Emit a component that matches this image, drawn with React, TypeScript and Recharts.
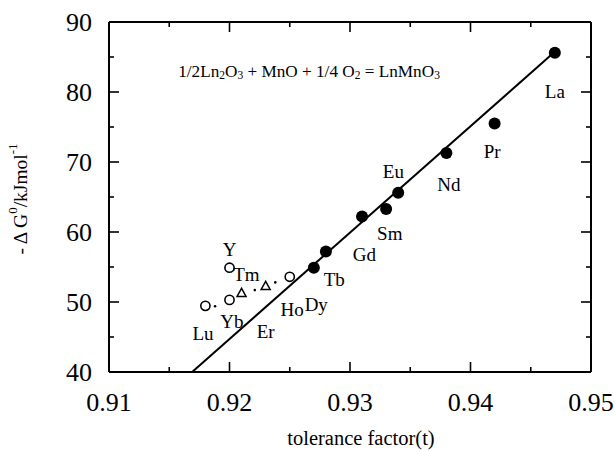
import { ScatterChart, Scatter, XAxis, YAxis } from 'recharts';

const xTicks = [0.91, 0.915, 0.92, 0.925, 0.93, 0.935, 0.94, 0.945, 0.95];
const yTicks = [40, 45, 50, 55, 60, 65, 70, 75, 80, 85, 90];

// filled circles: La, Pr, Nd, Eu, Sm, Gd, (Gd/Tb), Tb
const filledT = [0.947, 0.942, 0.938, 0.934, 0.933, 0.931, 0.928, 0.927];
const filledG = [85.6, 75.5, 71.3, 65.6, 63.3, 62.2, 57.2, 54.9];

// open circles
const openT = [0.92, 0.925, 0.92, 0.918];
const openG = [54.9, 53.6, 50.3, 49.45];

// open triangles
const triT = [0.923, 0.921];
const triG = [52.3, 51.3];

// tiny dots next to the open markers
const dotT = [0.9188, 0.9221, 0.9238];
const dotG = [49.4, 51.7, 52.8];

// fitted line
const fitT = [0.9169, 0.9469];
const fitG = [40, 85.6];

// element labels (anchors in data units)
const labelNames = ['La', 'Pr', 'Nd', 'Eu', 'Sm', 'Gd', 'Tb', 'Dy', 'Ho', 'Er', 'Yb', 'Lu', 'Tm', 'Y'];
const labelT = [0.947, 0.9418, 0.9382, 0.9336, 0.9333, 0.9312, 0.9287, 0.9272, 0.9252, 0.923, 0.9202, 0.9178, 0.9214, 0.92];
const labelG = [80.1, 71.5, 66.75, 68.66, 59.84, 56.74, 53.26, 49.59, 48.87, 45.77, 47.2, 45.54, 53.88, 57.45];

const eqT = [0.9266];
const eqG = [83.06];

const zip = (t: number[], g: number[]) => t.map((v, i) => ({ t: v, g: g[i] }));

const filled = zip(filledT, filledG);
const open = zip(openT, openG);
const tri = zip(triT, triG);
const dots = zip(dotT, dotG);
const fit = zip(fitT, fitG);
const labels = labelNames.map((name, i) => ({ name, t: labelT[i], g: labelG[i] }));
const equation = zip(eqT, eqG);

const FONT = 'Liberation Serif';

const isMajorX = (v: number) => Math.round(v * 1000) % 10 === 0;
const isMajorY = (v: number) => v % 10 === 0;

const BottomTick = (props: any) => {
  const { x, y, payload } = props;
  const major = isMajorX(payload.value);
  return (
    <g>
      <line x1={x} x2={x} y1={y} y2={y - (major ? 10 : 5)} stroke="#000" strokeWidth={1.6} />
      {major && (
        <text x={x} y={y + 30} textAnchor="middle" dominantBaseline="central" fontFamily={FONT} fontSize={26} fill="#000">
          {payload.value.toFixed(2)}
        </text>
      )}
    </g>
  );
};

const TopTick = (props: any) => {
  const { x, y, payload } = props;
  const major = isMajorX(payload.value);
  return <line x1={x} x2={x} y1={y} y2={y + (major ? 10 : 5)} stroke="#000" strokeWidth={1.6} />;
};

const LeftTick = (props: any) => {
  const { x, y, payload } = props;
  const major = isMajorY(payload.value);
  return (
    <g>
      <line x1={x} x2={x + (major ? 10 : 5)} y1={y} y2={y} stroke="#000" strokeWidth={1.6} />
      {major && (
        <text x={x - 17} y={y} textAnchor="end" dominantBaseline="central" fontFamily={FONT} fontSize={26} fill="#000">
          {payload.value}
        </text>
      )}
    </g>
  );
};

const RightTick = (props: any) => {
  const { x, y, payload } = props;
  const major = isMajorY(payload.value);
  return <line x1={x} x2={x - (major ? 10 : 5)} y1={y} y2={y} stroke="#000" strokeWidth={1.6} />;
};

const FilledDot = (p: any) => <circle cx={p.cx} cy={p.cy} r={6} fill="#000" />;
const OpenDot = (p: any) => <circle cx={p.cx} cy={p.cy} r={4.6} fill="#fff" stroke="#000" strokeWidth={1.6} />;
const TinyDot = (p: any) => <circle cx={p.cx} cy={p.cy} r={1.3} fill="#000" />;
const Triangle = (p: any) => {
  const s = 4.5;
  const pts = `${p.cx},${p.cy - s} ${p.cx - s},${p.cy + s * 0.8} ${p.cx + s},${p.cy + s * 0.8}`;
  return <polygon points={pts} fill="#fff" stroke="#000" strokeWidth={1.5} />;
};
const NoDot = () => <g />;

const ElementLabel = (p: any) => (
  <text x={p.cx} y={p.cy} textAnchor="middle" dominantBaseline="central" fontFamily={FONT} fontSize={19} fill="#000">
    {p.payload.name}
  </text>
);

const Equation = (p: any) => (
  <text x={p.cx} y={p.cy} textAnchor="middle" dominantBaseline="central" fontFamily={FONT} fontSize={17.2} fill="#000">
    <tspan>1/2Ln</tspan>
    <tspan fontSize={11.5} dy={4}>2</tspan>
    <tspan dy={-4}>O</tspan>
    <tspan fontSize={11.5} dy={4}>3</tspan>
    <tspan dy={-4}> + MnO + 1/4 O</tspan>
    <tspan fontSize={11.5} dy={4}>2</tspan>
    <tspan dy={-4}> = LnMnO</tspan>
    <tspan fontSize={11.5} dy={4}>3</tspan>
  </text>
);

const YTitle = () => {
  const cx = 20;
  const cy = 199;
  return (
    <text x={cx} y={cy} transform={`rotate(-90 ${cx} ${cy})`} textAnchor="middle" dominantBaseline="central" fontFamily={FONT} fontSize={19.5} fill="#000">
      <tspan>- Δ G</tspan>
      <tspan fontSize={13} dy={-8}>0</tspan>
      <tspan dy={8}>/kJmol</tspan>
      <tspan fontSize={13} dy={-8}>-1</tspan>
    </text>
  );
};

const XTitle = () => (
  <text x={361} y={438} textAnchor="middle" dominantBaseline="central" fontFamily={FONT} fontSize={20.5} fill="#000">
    tolerance factor(t)
  </text>
);

const axisLine = { stroke: '#000', strokeWidth: 2 };

export default function App() {
  return (
    <div style={{ position: 'absolute', left: 0, top: 0, width: 615, height: 451, background: '#fff' }}>
      <ScatterChart width={615} height={451} margin={{ top: 21, right: 23, bottom: 78, left: 108 }}>
        <XAxis
          type="number"
          dataKey="t"
          domain={[0.91, 0.95]}
          ticks={xTicks}
          interval={0}
          height={1}
          tickSize={0}
          tickMargin={0}
          tickLine={false}
          axisLine={axisLine}
          tick={(p: any) => <BottomTick {...p} />}
          allowDataOverflow
          label={{ content: () => <XTitle /> }}
        />
        <XAxis
          xAxisId="top"
          orientation="top"
          type="number"
          dataKey="t"
          domain={[0.91, 0.95]}
          ticks={xTicks}
          interval={0}
          height={1}
          tickSize={0}
          tickMargin={0}
          tickLine={false}
          axisLine={axisLine}
          tick={(p: any) => <TopTick {...p} />}
          allowDataOverflow
        />
        <YAxis
          type="number"
          dataKey="g"
          domain={[40, 90]}
          ticks={yTicks}
          interval={0}
          width={1}
          tickSize={0}
          tickMargin={0}
          tickLine={false}
          axisLine={axisLine}
          tick={(p: any) => <LeftTick {...p} />}
          allowDataOverflow
          label={{ content: () => <YTitle /> }}
        />
        <YAxis
          yAxisId="right"
          orientation="right"
          type="number"
          dataKey="g"
          domain={[40, 90]}
          ticks={yTicks}
          interval={0}
          width={1}
          tickSize={0}
          tickMargin={0}
          tickLine={false}
          axisLine={axisLine}
          tick={(p: any) => <RightTick {...p} />}
          allowDataOverflow
        />
        <Scatter data={fit} line={{ stroke: '#000', strokeWidth: 2 }} shape={NoDot} isAnimationActive={false} />
        <Scatter data={filled} shape={FilledDot} isAnimationActive={false} />
        <Scatter data={open} shape={OpenDot} isAnimationActive={false} />
        <Scatter data={tri} shape={Triangle} isAnimationActive={false} />
        <Scatter data={dots} shape={TinyDot} isAnimationActive={false} />
        <Scatter data={labels} shape={ElementLabel} isAnimationActive={false} />
        <Scatter data={equation} shape={Equation} isAnimationActive={false} />
      </ScatterChart>
    </div>
  );
}
